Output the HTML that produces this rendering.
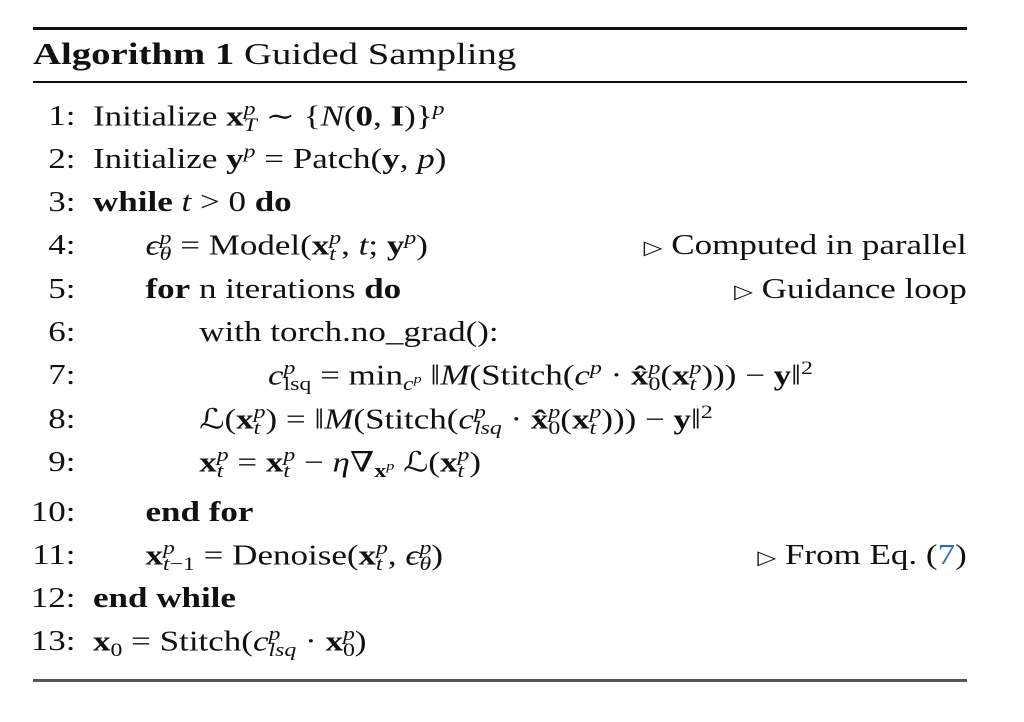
<!DOCTYPE html>
<html><head><meta charset="utf-8">
<style>
html,body{margin:0;padding:0;background:#fff;}
body{width:1024px;height:722px;position:relative;overflow:hidden;font-family:"Liberation Serif","DejaVu Serif",serif;color:#111;}
.rule{position:absolute;left:33px;width:934px;background:#111;}
#box{position:absolute;left:33px;top:2px;width:747px;height:720px;transform:scaleX(1.25);transform-origin:0 0;font-size:28px;}
.ln{position:absolute;left:0;width:747px;height:30px;line-height:30px;white-space:nowrap;}
.num{position:absolute;right:713px;text-align:right;}
.txt{position:absolute;}
.cm{position:absolute;right:0;}
i{font-style:italic;}
b{font-weight:bold;}
.ss{display:inline-block;vertical-align:-0.3em;line-height:0.85;font-size:0.68em;text-align:left;}
.ss span{display:block;}
sup{font-size:0.68em;vertical-align:0.55em;line-height:0;}
sub{font-size:0.68em;vertical-align:-0.3em;line-height:0;}
.tri{font-size:0.7em;}
.link{color:#2a6fb0;}
</style></head>
<body>
<div class="rule" style="top:27px;height:3px;"></div>
<div class="rule" style="top:81px;height:2px;"></div>
<div class="rule" style="top:679px;height:3px;background:#555;"></div>
<div id="box">
  <div class="ln" style="top:37px;font-size:31px;"><span class="txt" style="left:0"><b>Algorithm 1</b> Guided Sampling</span></div>

  <div class="ln" style="top:100px"><span class="num">1:</span><span class="txt" style="left:48px">Initialize <b>x</b><span class="ss"><span><i>p</i></span><span><i>T</i></span></span> ∼ {<i>N</i>(<b>0</b>, <b>I</b>)}<sup><i>p</i></sup></span></div>
  <div class="ln" style="top:143px"><span class="num">2:</span><span class="txt" style="left:48px">Initialize <b>y</b><sup><i>p</i></sup> = Patch(<b>y</b>, <i>p</i>)</span></div>
  <div class="ln" style="top:186px"><span class="num">3:</span><span class="txt" style="left:48px"><b>while</b> <i>t</i> &gt; 0 <b>do</b></span></div>
  <div class="ln" style="top:229px"><span class="num">4:</span><span class="txt" style="left:90px"><i>ϵ</i><span class="ss"><span><i>p</i></span><span><i>θ</i></span></span> = Model(<b>x</b><span class="ss"><span><i>p</i></span><span><i>t</i></span></span>, <i>t</i>; <b>y</b><sup><i>p</i></sup>)</span><span class="cm"><span class="tri">▷</span> Computed in parallel</span></div>
  <div class="ln" style="top:273px"><span class="num">5:</span><span class="txt" style="left:90px"><b>for</b> n iterations <b>do</b></span><span class="cm"><span class="tri">▷</span> Guidance loop</span></div>
  <div class="ln" style="top:316px"><span class="num">6:</span><span class="txt" style="left:133px">with torch.no_grad():</span></div>
  <div class="ln" style="top:359px"><span class="num">7:</span><span class="txt" style="left:188px"><i>c</i><span class="ss"><span><i>p</i></span><span>lsq</span></span> = min<sub><i>c<sup>p</sup></i></sub> ‖<i>M</i>(Stitch(<i>c</i><sup><i>p</i></sup> · <b>x̂</b><span class="ss"><span><i>p</i></span><span>0</span></span>(<b>x</b><span class="ss"><span><i>p</i></span><span><i>t</i></span></span>))) − <b>y</b>‖<sup>2</sup></span></div>
  <div class="ln" style="top:403px"><span class="num">8:</span><span class="txt" style="left:133px">ℒ(<b>x</b><span class="ss"><span><i>p</i></span><span><i>t</i></span></span>) = ‖<i>M</i>(Stitch(<i>c</i><span class="ss"><span><i>p</i></span><span><i>lsq</i></span></span> · <b>x̂</b><span class="ss"><span><i>p</i></span><span>0</span></span>(<b>x</b><span class="ss"><span><i>p</i></span><span><i>t</i></span></span>))) − <b>y</b>‖<sup>2</sup></span></div>
  <div class="ln" style="top:446px"><span class="num">9:</span><span class="txt" style="left:133px"><b>x</b><span class="ss"><span><i>p</i></span><span><i>t</i></span></span> = <b>x</b><span class="ss"><span><i>p</i></span><span><i>t</i></span></span> − <i>η</i>∇<sub><b>x</b><sup><i>p</i></sup></sub> ℒ(<b>x</b><span class="ss"><span><i>p</i></span><span><i>t</i></span></span>)</span></div>
  <div class="ln" style="top:496px"><span class="num">10:</span><span class="txt" style="left:90px"><b>end for</b></span></div>
  <div class="ln" style="top:539px"><span class="num">11:</span><span class="txt" style="left:90px"><b>x</b><span class="ss"><span><i>p</i></span><span><i>t</i>−1</span></span> = Denoise(<b>x</b><span class="ss"><span><i>p</i></span><span><i>t</i></span></span>, <i>ϵ</i><span class="ss"><span><i>p</i></span><span><i>θ</i></span></span>)</span><span class="cm"><span class="tri">▷</span> From Eq. (<span class="link">7</span>)</span></div>
  <div class="ln" style="top:582px"><span class="num">12:</span><span class="txt" style="left:48px"><b>end while</b></span></div>
  <div class="ln" style="top:625px"><span class="num">13:</span><span class="txt" style="left:48px"><b>x</b><sub>0</sub> = Stitch(<i>c</i><span class="ss"><span><i>p</i></span><span><i>lsq</i></span></span> · <b>x</b><span class="ss"><span><i>p</i></span><span>0</span></span>)</span></div>
</div>
</body></html>
